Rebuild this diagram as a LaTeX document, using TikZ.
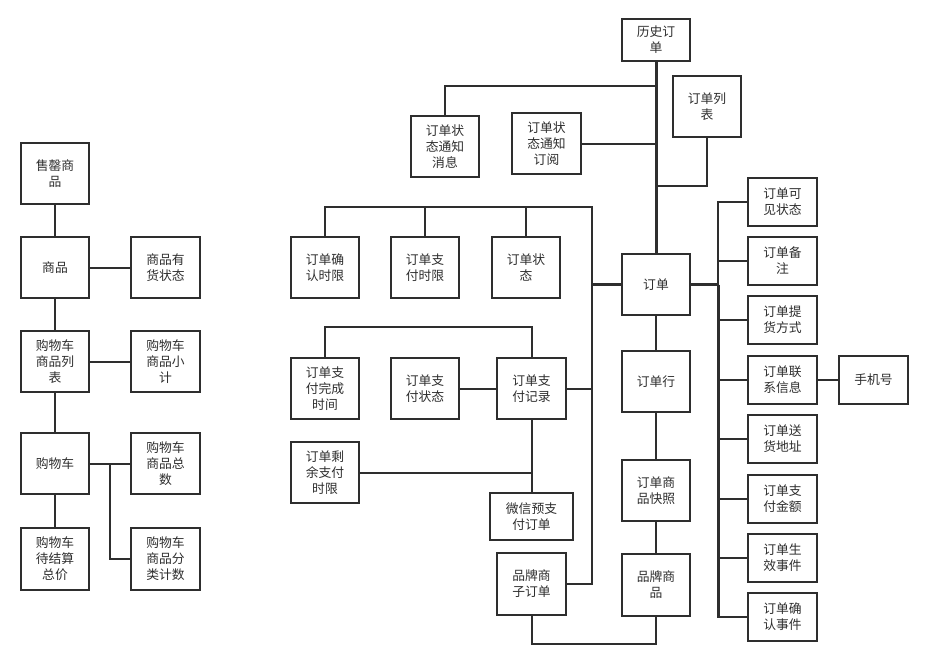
\documentclass[tikz,border=0pt]{standalone}
\usepackage{fontspec}
\newfontfamily\cjk{Noto Sans CJK SC}
\usetikzlibrary{calc}
\definecolor{ink}{HTML}{2E2E2E}
\tikzset{
  box/.style={draw=ink, line width=2pt, fill=white, inner sep=0pt, align=center,
     minimum width=68pt, minimum height=61pt, text=ink,
     font=\cjk\fontsize{12.8}{16}\selectfont},
  sbox/.style={box, minimum width=69pt, minimum height=48pt},
  conn/.style={draw=ink, line width=2pt},
  thick conn/.style={draw=ink, line width=3pt},
}
\begin{document}
\begin{tikzpicture}[x=1pt,y=-1pt]
\useasboundingbox[fill=white] (0,0) rectangle (932,662);
% left column
\node[box] (s1) at (55,173.5) {售罄商\\品};
\node[box] (s2) at (55,267.5) {商品};
\node[box, minimum width=69pt] (s3) at (165.5,267.5) {商品有\\货状态};
\node[box] (s4) at (55,361.5) {购物车\\商品列\\表};
\node[box, minimum width=69pt] (s5) at (165.5,361.5) {购物车\\商品小\\计};
\node[box] (s6) at (55,463.5) {购物车};
\node[box, minimum width=69pt] (s7) at (165.5,463.5) {购物车\\商品总\\数};
\node[box, minimum height=62pt] (s8) at (55,559) {购物车\\待结算\\总价};
\node[box, minimum width=69pt, minimum height=62pt] (s9) at (165.5,559) {购物车\\商品分\\类计数};
\coordinate (sbr) at (110,463.5);
\draw[conn] (s1.south) -- (s2.north);
\draw[conn] (s2.south) -- (s4.north);
\draw[conn] (s4.south) -- (s6.north);
\draw[conn] (s6.south) -- (s8.north);
\draw[conn] (s2.east) -- (s3.west);
\draw[conn] (s4.east) -- (s5.west);
\draw[conn] (s6.east) -- (s7.west);
\draw[conn] (sbr) |- (s9.west);
% middle
\node[box, minimum height=42pt] (hist) at (656,40) {历史订\\单};
\node[box] (msg) at (445,146.5) {订单状\\态通知\\消息};
\node[box, minimum width=69pt] (sub) at (546.5,143.5) {订单状\\态通知\\订阅};
\node[box] (olist) at (707,106.5) {订单列\\表};
\node[box] (order) at (656,284.5) {订单};
\node[box] (c1) at (325,267.5) {订单确\\认时限};
\node[box] (c2) at (425,267.5) {订单支\\付时限};
\node[box] (c3) at (526,267.5) {订单状\\态};
\node[box] (p1) at (325,388.5) {订单支\\付完成\\时间};
\node[box] (p2) at (425,388.5) {订单支\\付状态};
\node[box, minimum width=69pt] (p3) at (531.5,388.5) {订单支\\付记录};
\node[box] (p4) at (325,472.5) {订单剩\\余支付\\时限};
\node[box, minimum width=83pt, minimum height=47pt] (wx) at (531.5,516.5) {微信预支\\付订单};
\node[box, minimum width=69pt, minimum height=62pt] (bsub) at (531.5,584) {品牌商\\子订单};
\node[box] (oline) at (656,381.5) {订单行};
\node[box] (snap) at (656,490.5) {订单商\\品快照};
\node[box, minimum height=62pt] (bprod) at (656,584.5) {品牌商\\品};
\coordinate (tA) at (656,86);
\coordinate (tB) at (656,186);
\coordinate (busL) at (592,207);
\coordinate (busLb) at (592,584);
\draw[thick conn] (hist.south) -- (order.north);
\draw[conn] (msg.north) |- (tA);
\draw[conn] (sub.east) -- (sub.east -| hist.south);
\draw[conn] (olist.south) |- (tB);
\draw[conn] (c1.north) |- (busL) -- (busLb) -- (bsub.east);
\draw[conn] (c2.north) -- (c2.north |- busL);
\draw[conn] (c3.north) -- (c3.north |- busL);
\draw[thick conn] (order.west) -- (order.west -| busL);
\draw[conn] (p3.east) -- (p3.east -| busL);
\draw[conn] (p1.north) -- ++(0,-30) -| (p3.north);
\draw[conn] (p2.east) -- (p3.west);
\draw[conn] (p3.south) -- (wx.north);
\draw[conn] (p4.east) -- (p4.east -| p3.south);
\draw[conn] (order.south) -- (oline.north);
\draw[conn] (oline.south) -- (snap.north);
\draw[conn] (snap.south) -- (bprod.north);
\draw[conn] (bsub.south) -- ++(0,28) -| (bprod.south);
% right
\node[sbox] (r1) at (782.5,201.5) {订单可\\见状态};
\node[sbox] (r2) at (782.5,261) {订单备\\注};
\node[sbox] (r3) at (782.5,320) {订单提\\货方式};
\node[sbox] (r4) at (782.5,380) {订单联\\系信息};
\node[sbox] (r5) at (782.5,439) {订单送\\货地址};
\node[sbox] (r6) at (782.5,498.5) {订单支\\付金额};
\node[sbox] (r7) at (782.5,558) {订单生\\效事件};
\node[sbox] (r8) at (782.5,617) {订单确\\认事件};
\node[sbox] (phone) at (873.5,380) {手机号};
\coordinate (busR) at (718,201.5);
\coordinate (busRb) at (718,617);
\draw[conn] (r1.west) -| (busR) -- (busRb) -- (r8.west);
\draw[thick conn] (order.east) -- (order.east -| busR);
\draw[thick conn] (order.east -| busR) -- (busRb);
\foreach \n in {r2,r3,r4,r5,r6,r7} \draw[conn] (\n.west) -- (\n.west -| busR);
\draw[conn] (r4.east) -- (phone.west);
\end{tikzpicture}
\end{document}
